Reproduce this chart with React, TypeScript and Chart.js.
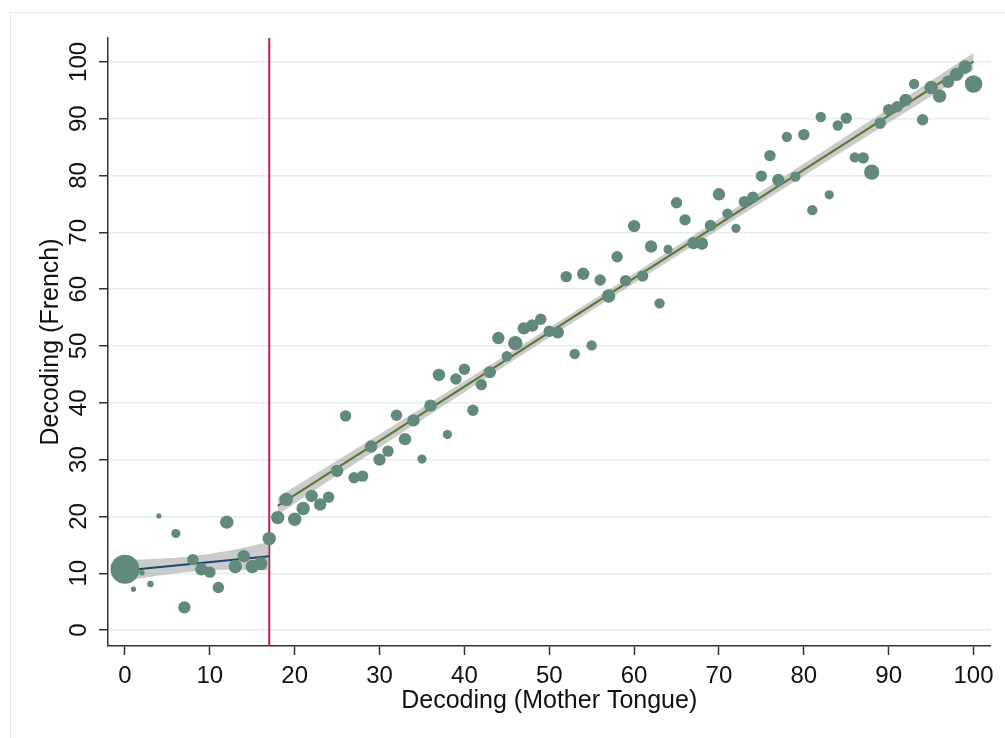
import { useEffect, useRef } from "react";
import { Chart, registerables } from "chart.js";

Chart.register(...registerables);

// Observations: Decoding (Mother Tongue) vs Decoding (French), marker size = weight
const xValues = [
  0, 1, 2, 3, 4, 6, 7, 8, 9, 10, 11, 12, 13, 14, 15, 16, 17,
  18, 19, 20, 21, 22, 23, 24, 25, 26, 27, 28, 29, 30, 31, 32, 33, 34, 35, 36, 37, 38, 39,
  40, 41, 42, 43, 44, 45, 46, 47, 48, 49, 50, 51, 52, 53, 54, 55, 56, 57, 58, 59,
  60, 61, 62, 63, 64, 65, 66, 67, 68, 69, 70, 71, 72, 73, 74, 75, 76, 77, 78, 79,
  80, 81, 82, 83, 84, 85, 86, 87, 88, 89, 90, 91, 92, 93, 94, 95, 96, 97, 98, 99, 100,
];
const yValues = [
  10.7, 7.2, 10.1, 8.1, 20.1, 17.0, 4.0, 12.4, 10.7, 10.2, 7.5, 19.0, 11.2, 13.0, 11.2, 11.7, 16.1,
  19.8, 23.0, 19.5, 21.4, 23.6, 22.1, 23.4, 28.0, 37.7, 26.8, 27.1, 32.3, 30.0, 31.5, 37.8, 33.6, 36.9, 30.1, 39.5, 44.9, 34.4, 44.2,
  45.9, 38.7, 43.2, 45.4, 51.4, 48.2, 50.5, 53.1, 53.6, 54.7, 52.6, 52.4, 62.2, 48.6, 62.7, 50.1, 61.6, 58.8, 65.7, 61.5,
  71.1, 62.3, 67.5, 57.5, 67.0, 75.2, 72.2, 68.1, 68.0, 71.2, 76.7, 73.3, 70.7, 75.4, 76.2, 79.9, 83.5, 79.2, 86.8, 79.8,
  87.2, 73.9, 90.3, 76.6, 88.8, 90.1, 83.2, 83.1, 80.6, 89.2, 91.6, 92.1, 93.3, 96.1, 89.8, 95.5, 94.0, 96.5, 97.8, 99.1, 96.1,
];
const markerSizes = [
  14.5, 2.6, 2.8, 3.2, 2.6, 4.6, 6.2, 5.7, 6.2, 5.7, 5.7, 6.7, 6.7, 6.2, 6.7, 6.7, 6.7,
  6.7, 6.7, 6.7, 6.7, 6.2, 6.2, 5.7, 6.2, 5.7, 5.7, 5.7, 6.2, 6.2, 5.7, 5.7, 6.2, 6.2, 4.6, 6.2, 6.2, 4.6, 5.7,
  5.7, 5.7, 5.7, 6.2, 6.2, 5.2, 7.2, 6.2, 6.2, 5.7, 5.7, 6.2, 5.7, 5.2, 6.2, 5.2, 5.7, 6.7, 5.7, 5.7,
  6.2, 5.7, 6.2, 5.2, 4.6, 5.7, 5.7, 6.2, 6.2, 5.7, 6.2, 5.2, 4.6, 5.7, 5.7, 5.7, 5.7, 6.2, 5.2, 5.2,
  5.7, 5.2, 5.2, 4.6, 5.2, 5.7, 5.2, 5.7, 7.7, 5.7, 5.7, 5.7, 6.2, 5.2, 5.7, 6.7, 6.7, 6.2, 6.7, 6.7, 8.8,
];

// Linear fits on each side of the cutoff
const cutoff = 17;
const leftFitX = [0, 17];
const leftFitY = [10.47, 12.99];
const rightFitX = [18, 100];
const rightFitY = [21.85, 100.1];

// Confidence bands
const leftBandX = [0, 4, 8, 12, 17];
const leftBandUpper = [12.3, 12.55, 13.0, 13.9, 15.5];
const leftBandLower = [8.7, 9.6, 10.3, 10.6, 10.5];
const rightBandX = [18, 30, 45, 60, 75, 90, 100];
const rightBandUpper = [23.4, 34.45, 48.5, 62.75, 77.25, 91.8, 101.6];
const rightBandLower = [20.3, 32.15, 46.7, 61.05, 75.25, 89.3, 98.6];

// Axes
const xTicks = [0, 10, 20, 30, 40, 50, 60, 70, 80, 90, 100];
const yTicks = [0, 10, 20, 30, 40, 50, 60, 70, 80, 90, 100];
const xRange = [-2, 102];
const yRange = [-2.8, 104.2];
const xTitle = "Decoding (Mother Tongue)";
const yTitle = "Decoding (French)";

const FONT = "'Liberation Sans', Arial, Helvetica, sans-serif";
const MARKER = "#628a7c";
const NAVY = "#1a476f";
const OLIVE = "#55772b";
const BAND = "rgba(160,160,160,0.55)";
const CUT = "#b8204f";
const GRID = "#e4eeee";
const AXIS = "#333333";

const zip = (xs: number[], ys: number[]) => xs.map((x, i) => ({ x, y: ys[i] }));

export default function App() {
  const ref = useRef<HTMLCanvasElement | null>(null);

  useEffect(() => {
    if (!ref.current) return;
    const lineBase = { showLine: true, pointRadius: 0, pointHoverRadius: 0, fill: false };
    const bandBase = {
      showLine: true,
      pointRadius: 0,
      pointHoverRadius: 0,
      borderWidth: 0,
      borderColor: "rgba(0,0,0,0)",
      backgroundColor: BAND,
      cubicInterpolationMode: "monotone" as const,
      order: 2,
    };
    const chart = new Chart(ref.current, {
      type: "scatter",
      data: {
        datasets: [
          {
            data: zip(xValues, yValues),
            pointRadius: markerSizes,
            pointHoverRadius: markerSizes,
            backgroundColor: MARKER,
            borderWidth: 0,
            order: 0,
          },
          { ...lineBase, data: zip(leftFitX, leftFitY), borderColor: NAVY, borderWidth: 2, order: 1 },
          { ...lineBase, data: zip(rightFitX, rightFitY), borderColor: OLIVE, borderWidth: 2, order: 1 },
          { ...bandBase, data: zip(leftBandX, leftBandUpper), fill: "+1" },
          { ...bandBase, data: zip(leftBandX, leftBandLower), fill: false },
          { ...bandBase, data: zip(rightBandX, rightBandUpper), fill: "+1" },
          { ...bandBase, data: zip(rightBandX, rightBandLower), fill: false },
          {
            ...lineBase,
            data: [
              { x: cutoff, y: yRange[0] },
              { x: cutoff, y: yRange[1] },
            ],
            borderColor: CUT,
            borderWidth: 2,
            order: 3,
          },
        ] as any,
      },
      options: {
        responsive: false,
        animation: false,
        events: [],
        layout: { padding: { left: 0, top: 38, right: 12, bottom: 0 } },
        plugins: { legend: { display: false }, tooltip: { enabled: false } },
        scales: {
          x: {
            type: "linear",
            min: xRange[0],
            max: xRange[1],
            afterBuildTicks: (s: any) => {
              s.ticks = xTicks.map((v) => ({ value: v }));
            },
            afterFit: (s: any) => {
              s.height = 92;
            },
            grid: {
              drawOnChartArea: false,
              drawTicks: true,
              tickLength: 9,
              tickColor: AXIS,
              tickWidth: 1.5,
            },
            border: { display: true, color: AXIS, width: 1.5 },
            ticks: {
              autoSkip: false,
              maxRotation: 0,
              minRotation: 0,
              padding: 7,
              color: "#111",
              font: { family: FONT, size: 24 },
            },
            title: {
              display: true,
              text: xTitle,
              color: "#111",
              font: { family: FONT, size: 25, lineHeight: 1 },
              padding: { top: 0, bottom: 24.5 },
            },
          },
          y: {
            type: "linear",
            min: yRange[0],
            max: yRange[1],
            afterBuildTicks: (s: any) => {
              s.ticks = yTicks.map((v) => ({ value: v }));
            },
            afterFit: (s: any) => {
              s.width = 108;
            },
            grid: {
              color: GRID,
              lineWidth: 1.5,
              drawTicks: true,
              tickLength: 9,
              tickColor: AXIS,
              tickWidth: 1.5,
            },
            border: { display: true, color: AXIS, width: 1.5 },
            ticks: {
              autoSkip: false,
              minRotation: 90,
              maxRotation: 90,
              crossAlign: "center",
              padding: 0,
              color: "#111",
              font: { family: FONT, size: 24 },
            },
            title: {
              display: true,
              text: yTitle,
              color: "#111",
              font: { family: FONT, size: 25, lineHeight: 1 },
              padding: { top: 38.5, bottom: 0 },
            },
          },
        },
      } as any,
    });
    return () => chart.destroy();
  }, []);

  return (
    <div style={{ position: "fixed", left: 0, top: 0, width: 1005, height: 738, background: "#fff" }}>
      <div
        style={{
          position: "absolute",
          left: 10,
          top: 12,
          width: 1000,
          height: 730,
          borderLeft: "1.5px solid #e2ebeb",
          borderTop: "1.5px solid #e2ebeb",
        }}
      />
      <canvas ref={ref} width={1005} height={738} style={{ position: "absolute", left: 0, top: 0 }} />
    </div>
  );
}
